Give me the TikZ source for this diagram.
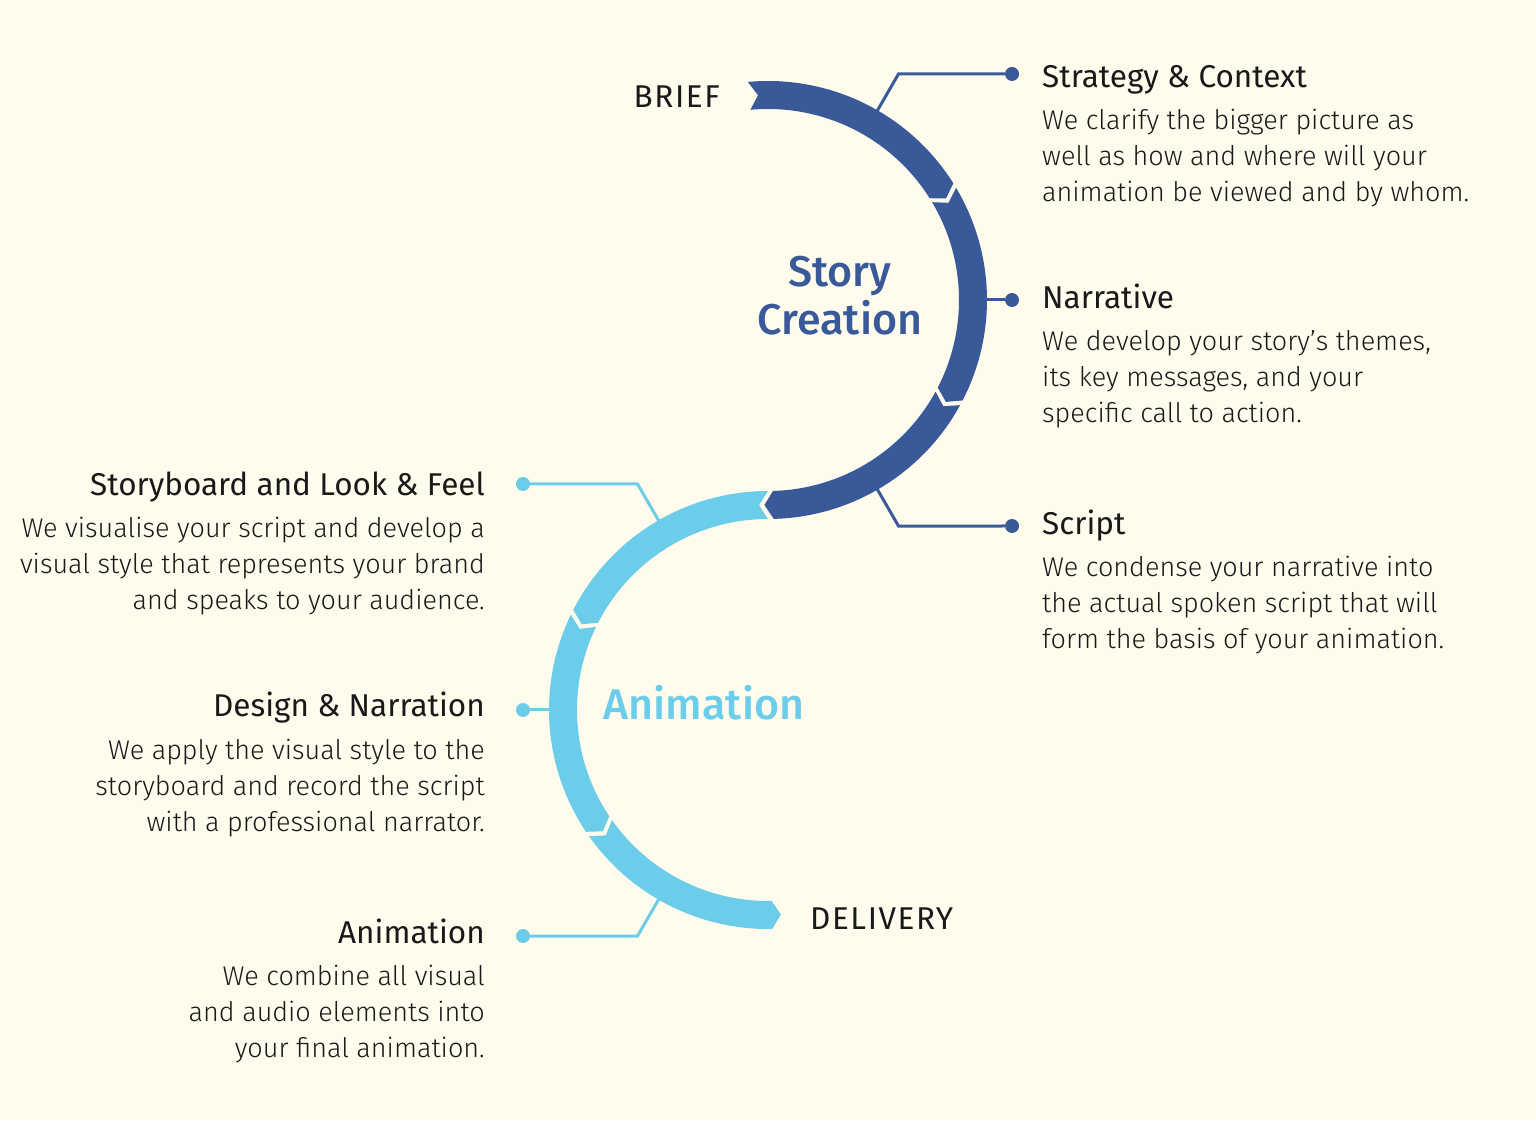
\documentclass[tikz,border=0pt]{standalone}
\usepackage{fontspec}
\usepackage{tikz}
\usetikzlibrary{calc}
\setmainfont{Fira Sans}
\newfontfamily\bodyfam{Fira Sans Light}
\newfontfamily\bigfam{Fira Sans Medium}
\newfontfamily\capsfam{Fira Sans}[LetterSpace=5]
\definecolor{storyblue}{RGB}{57,89,153}
\definecolor{animblue}{RGB}{108,205,234}
\definecolor{cream}{RGB}{255,252,238}
\definecolor{ink}{RGB}{25,25,25}
\newcommand\Rout{219}
\newcommand\Rin{191}
\newcommand\Rmid{205}
\newcommand\tipang{2.5}
% one band piece: centre, start angle, end angle, sense (+1 ccw, -1 cw), colour
\newcommand\arcpiece[5]{%
    \fill[#5] ($(#1)+(#2:\Rout)$) arc[start angle=#2, end angle=#3, radius=\Rout]
        -- ($(#1)+({#3+#4*\tipang}:\Rmid)$) -- ($(#1)+(#3:\Rin)$)
        arc[start angle=#3, end angle=#2, radius=\Rin]
        -- ($(#1)+({#2+#4*\tipang}:\Rmid)$) -- cycle;}
\tikzset{
    head/.style={font=\fontsize{31.5}{36}\selectfont, text=ink, inner sep=0pt},
    caps/.style={head, font=\capsfam\fontsize{31.5}{36}\selectfont},
    body/.style={font=\bodyfam\fontsize{27}{36}\selectfont, text=ink, inner sep=0pt, align=left},
    bodyr/.style={body, align=right},
    big/.style={font=\bigfam\fontsize{43}{48}\selectfont, inner sep=0pt, align=center},
    dot/.style={circle, fill, inner sep=0pt, minimum size=14pt},
    lead/.style={line width=3pt}
}

\begin{document}
\begin{tikzpicture}[x=1pt,y=1pt]
    \fill[cream] (0,0) rectangle (1536,1120);
    \useasboundingbox (0,0) rectangle (1536,1120);
    \coordinate (C1) at (768,820);
    \coordinate (C2) at (768,410);
    % leads and dots
    \node[dot,storyblue] (dstrat) at (1012,1046) {};
    \node[dot,storyblue] (dnarr) at (1012,820) {};
    \node[dot,storyblue] (dscript) at (1012,594) {};
    \node[dot,animblue] (dboard) at (523,636) {};
    \node[dot,animblue] (ddesign) at (523,410) {};
    \node[dot,animblue] (danim) at (523,184) {};
    \coordinate (astrat) at ($(C1)+(60:\Rmid)$);
    \coordinate (kstrat) at ($(C1)+(60:261)$);
    \coordinate (anarr) at ($(C1)+(0:\Rmid)$);
    \coordinate (ascript) at ($(C1)+(-60:\Rmid)$);
    \coordinate (kscript) at ($(C1)+(-60:261)$);
    \coordinate (aboard) at ($(C2)+(120:\Rmid)$);
    \coordinate (kboard) at ($(C2)+(120:261)$);
    \coordinate (adesign) at ($(C2)+(180:\Rmid)$);
    \coordinate (aanim) at ($(C2)+(240:\Rmid)$);
    \coordinate (kanim) at ($(C2)+(240:261)$);
    \draw[lead,storyblue] (astrat) -- (kstrat) -- (dstrat);
    \draw[lead,storyblue] (anarr) -- (dnarr);
    \draw[lead,storyblue] (ascript) -- (kscript) -- (dscript);
    \draw[lead,animblue] (aboard) -- (kboard) -- (dboard);
    \draw[lead,animblue] (adesign) -- (ddesign);
    \draw[lead,animblue] (aanim) -- (kanim) -- (danim);
    % the S band
    \foreach \a/\b in {95.3/32.2, 30.8/-27.3, -28.7/-88.5}
        \arcpiece{C1}{\a}{\b}{-1}{storyblue};
    \foreach \a/\b in {90/152.8, 154.2/213.8, 215.2/271.1}
        \arcpiece{C2}{\a}{\b}{1}{animblue};
    % labels
    \node[caps, anchor=base east] (brief) at (720,1012) {BRIEF};
    \node[caps, anchor=base west] (delivery) at (810,191) {DELIVERY};
    \node[big, text=storyblue, anchor=base] (story) at (840,785) {Story\\Creation};
    \node[big, text=animblue, anchor=base] (anim) at (704,400) {Animation};
    % right column
    \node[head, anchor=base west] (hstrat) at (1042,1032) {Strategy \& Context};
    \node[body, anchor=base west] (tstrat) at (1042,918) {We clarify the bigger picture as\\well as how and where will your\\animation be viewed and by whom.};
    \node[head, anchor=base west] (hnarr) at (1042,811) {Narrative};
    \node[body, anchor=base west] (tnarr) at (1042,697) {We develop your story’s themes,\\its key messages, and your\\specific call to action.};
    \node[head, anchor=base west] (hscript) at (1042,585) {Script};
    \node[body, anchor=base west] (tscript) at (1042,471) {We condense your narrative into\\the actual spoken script that will\\form the basis of your animation.};
    % left column
    \node[head, anchor=base east] (hboard) at (485,624) {Storyboard and Look \& Feel};
    \node[bodyr, anchor=base east] (tboard) at (485,510) {We visualise your script and develop a\\visual style that represents your brand\\and speaks to your audience.};
    \node[head, anchor=base east] (hdesign) at (485,403) {Design \& Narration};
    \node[bodyr, anchor=base east] (tdesign) at (485,289) {We apply the visual style to the\\storyboard and record the script\\with a professional narrator.};
    \node[head, anchor=base east] (hanim) at (485,177) {Animation};
    \node[bodyr, anchor=base east] (tanim) at (485,63) {We combine all visual\\and audio elements into\\your final animation.};
\end{tikzpicture}
\end{document}
